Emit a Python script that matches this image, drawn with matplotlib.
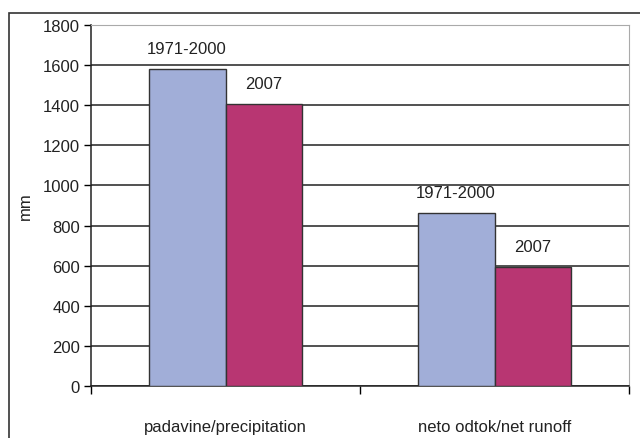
import matplotlib
matplotlib.use("Agg")
import matplotlib.pyplot as plt
from matplotlib.patches import Rectangle
import numpy as np

plt.rcParams['font.family'] = ['Liberation Sans', 'DejaVu Sans']

categories = ["padavine/precipitation", "neto odtok/net runoff"]
series_names = ["1971-2000", "2007"]
values_1971_2000 = [1580, 862]
values_2007 = [1408, 593]
colors = ["#a1aed8", "#b83672"]

fig = plt.figure(figsize=(6.4, 4.39), dpi=100)
# outer frame of the chart
fig.patches.append(Rectangle((9 / 640, -0.2), 1.2, 1.2 - 14 / 439,
                             transform=fig.transFigure, fill=False,
                             edgecolor="#333333", linewidth=1.2))
ax = fig.add_axes([91 / 640, 52 / 439, 538 / 640, 361 / 439])

x = np.arange(len(categories))
w = 0.286
b1 = ax.bar(x - w / 2, values_1971_2000, w, color=colors[0], edgecolor="#333333", linewidth=1, zorder=3)
b2 = ax.bar(x + w / 2, values_2007, w, color=colors[1], edgecolor="#333333", linewidth=1, zorder=3)

for bars, name in [(b1, series_names[0]), (b2, series_names[1])]:
    for r in bars:
        ax.annotate(name, (r.get_x() + r.get_width() / 2, r.get_height()),
                    xytext=(0, 14.5), textcoords="offset points",
                    ha="center", va="center", fontsize=12, color="#222222")

ax.set_ylim(0, 1800)
ax.set_xlim(-0.5, 1.5)
ax.set_yticks(range(0, 1801, 200))
ax.tick_params(axis="y", direction="out", length=5, width=1, labelsize=12, pad=3,
               labelcolor="#222222")
ax.set_xticks([-0.5, 0.5, 1.5])
ax.set_xticklabels([])
ax.tick_params(axis="x", direction="out", length=6, width=1)
ax.set_xticks(x, minor=True)
ax.set_xticklabels(categories, minor=True, fontsize=12, color="#222222")
ax.tick_params(axis="x", which="minor", length=0, pad=24)

ax.yaxis.grid(True, color="#222222", linewidth=1.1, zorder=0)
ax.set_axisbelow(True)
for s in ["top", "right"]:
    ax.spines[s].set_color("#aaaaaa")
for s in ["left", "bottom"]:
    ax.spines[s].set_color("#222222")
    ax.spines[s].set_linewidth(1.1)
ax.set_ylabel("mm", fontsize=12, labelpad=7, color="#222222")

fig.savefig("out.png", dpi=100)
